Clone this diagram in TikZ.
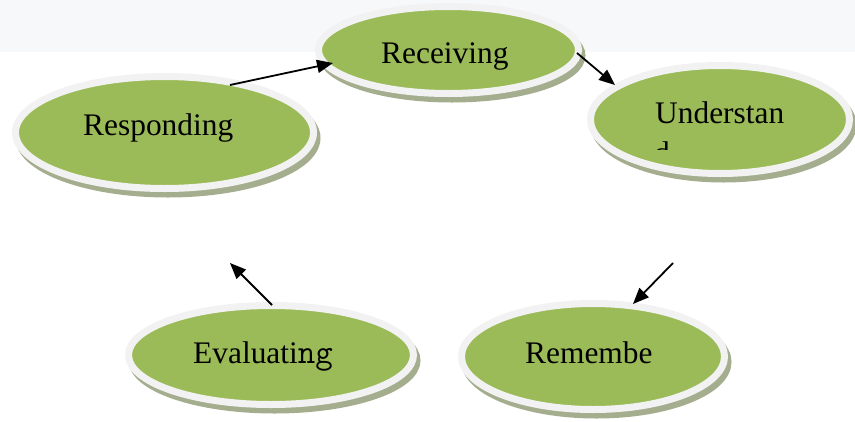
\documentclass[tikz,border=0pt]{standalone}
\usepackage{fontspec}
\setmainfont{Liberation Serif}
\usetikzlibrary{shapes.geometric,arrows.meta}
\definecolor{band}{HTML}{F7F8FA}
\definecolor{leaf}{HTML}{9BBB59}
\definecolor{rim}{HTML}{F2F2F2}
\definecolor{shade}{HTML}{A4AE8E}
\tikzset{
  oval/.style={ellipse, fill=leaf, draw=rim, line width=7pt, inner sep=0pt,
    preaction={fill=shade, draw=shade, transform canvas={shift={(3.5pt,-5.5pt)}}}},
  lbl/.style={anchor=base west, inner sep=0pt, font=\fontsize{31.4}{37}\selectfont},
  flow/.style={line width=1.8pt, -{Triangle[length=16pt,width=13pt]}}
}
\begin{document}
\begin{tikzpicture}[x=1pt,y=-1pt]
\useasboundingbox (0,0) rectangle (855,421);
\fill[band] (0,0) rectangle (855,52);
% ovals
\node[oval, minimum width=260pt, minimum height=87pt] (rec) at (448.5,50) {};
\node[oval, minimum width=259pt, minimum height=108pt] (und) at (720,119.5) {};
\node[oval, minimum width=298pt, minimum height=112pt] (res) at (164.5,132.5) {};
\node[oval, minimum width=285pt, minimum height=99pt] (eva) at (271,355) {};
\node[oval, minimum width=263pt, minimum height=106pt] (rem) at (593,356.5) {};
% labels
\node[lbl] (trec) at (381,63) {Receiving};
\node[lbl] (tres) at (83,135) {Responding};
\node[lbl] (tund) at (655,123.3) {Understan};
\begin{scope}
\clip (600,130) rectangle (800,149);
\node[lbl] (tund2) at (654,163) {d};
\end{scope}
\node[lbl] (teva) at (193,363) {Evaluati{\ttfamily\fontsize{34}{37}\selectfont ng}};
\node[lbl] (trem) at (525,363) {Remembe};
% connector ends
\coordinate (a1) at (230,85);
\coordinate (a2) at (333,63);
\coordinate (b1) at (577,53);
\coordinate (b2) at (615,85);
\coordinate (c1) at (673,263);
\coordinate (c2) at (633,304);
\coordinate (d1) at (272,305);
\coordinate (d2) at (230,263);
\draw[flow] (a1) -- (a2);
\draw[flow] (b1) -- (b2);
\draw[flow] (c1) -- (c2);
\draw[flow] (d1) -- (d2);
\end{tikzpicture}
\end{document}
